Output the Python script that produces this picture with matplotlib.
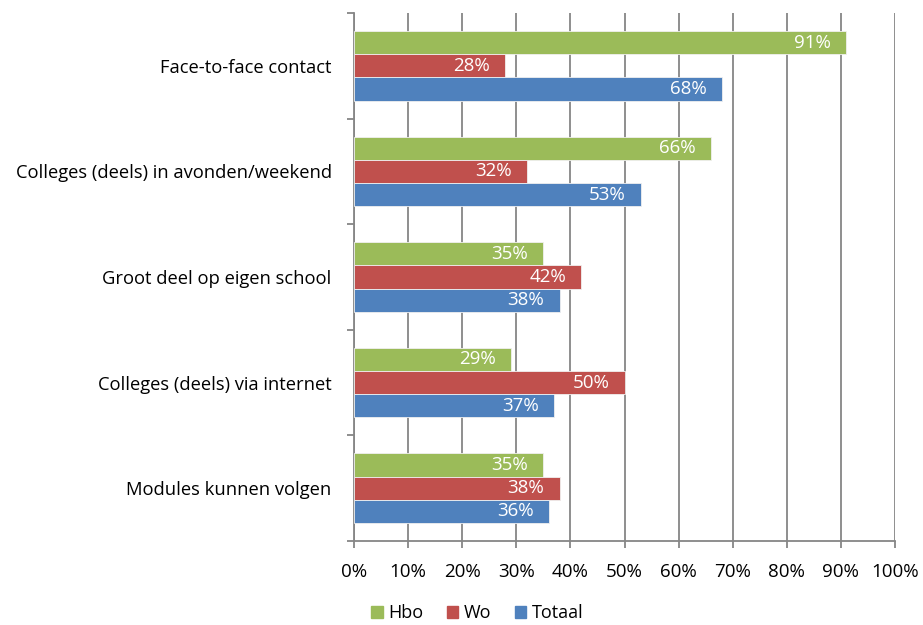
import matplotlib.pyplot as plt
import numpy as np
from matplotlib.ticker import MultipleLocator, FuncFormatter
from matplotlib.patches import Patch

categories = ["Face-to-face contact",
              "Colleges (deels) in avonden/weekend",
              "Groot deel op eigen school",
              "Colleges (deels) via internet",
              "Modules kunnen volgen"]
hbo = [91, 66, 35, 29, 35]
wo = [28, 32, 42, 50, 38]
totaal = [68, 53, 38, 37, 36]

series = [("Hbo", hbo, "#9bbb59"), ("Wo", wo, "#c0504d"), ("Totaal", totaal, "#4f81bd")]

plt.rcParams['font.family'] = ['Open Sans', 'DejaVu Sans']

fig = plt.figure(figsize=(9.23, 6.25), dpi=100)
ax = fig.add_axes([0.3835, 0.1344, 0.5862, 0.8448])

n = len(categories)
y = np.arange(n)
h = 0.22
for i, (name, vals, col) in enumerate(series):
    pos = y + (i - 1) * h
    bars = ax.barh(pos, vals, height=h, color=col, edgecolor='#f0f0f0', linewidth=0.6, zorder=3)
    for b, v in zip(bars, vals):
        ax.text(v - 2.8, b.get_y() + b.get_height() / 2, f"{v}%", color='white',
                ha='right', va='center', fontsize=13.5, zorder=4)

ax.set_xlim(0, 100)
ax.set_ylim(n - 0.5, -0.5)
ax.xaxis.set_major_locator(MultipleLocator(10))
ax.xaxis.set_major_formatter(FuncFormatter(lambda v, p: f"{v:.0f}%"))
ax.grid(axis='x', color='#868686', linewidth=1.3, zorder=0)

ax.set_yticks(np.arange(n + 1) - 0.5)
ax.set_yticklabels([])
ax.set_yticks(y, minor=True)
ax.set_yticklabels(categories, minor=True)
ax.tick_params(axis='y', which='minor', length=0, pad=16, labelsize=13.2)
ax.tick_params(axis='y', which='major', length=5, width=1.3, color='#868686')
ax.tick_params(axis='x', length=5, width=1.3, color='#868686', labelsize=13.5, pad=11)

for s in ['top', 'right']:
    ax.spines[s].set_visible(False)
for s in ['left', 'bottom']:
    ax.spines[s].set_color('#868686')
    ax.spines[s].set_linewidth(1.3)

handles = [Patch(color=c, label=nm) for nm, _, c in series]
fig.legend(handles=handles, loc='lower center', bbox_to_anchor=(0.517, -0.022), ncol=3,
           frameon=False, fontsize=13, handlelength=0.65, handleheight=0.65,
           handletextpad=0.3, columnspacing=1.3)

fig.savefig("out.png", dpi=100)
